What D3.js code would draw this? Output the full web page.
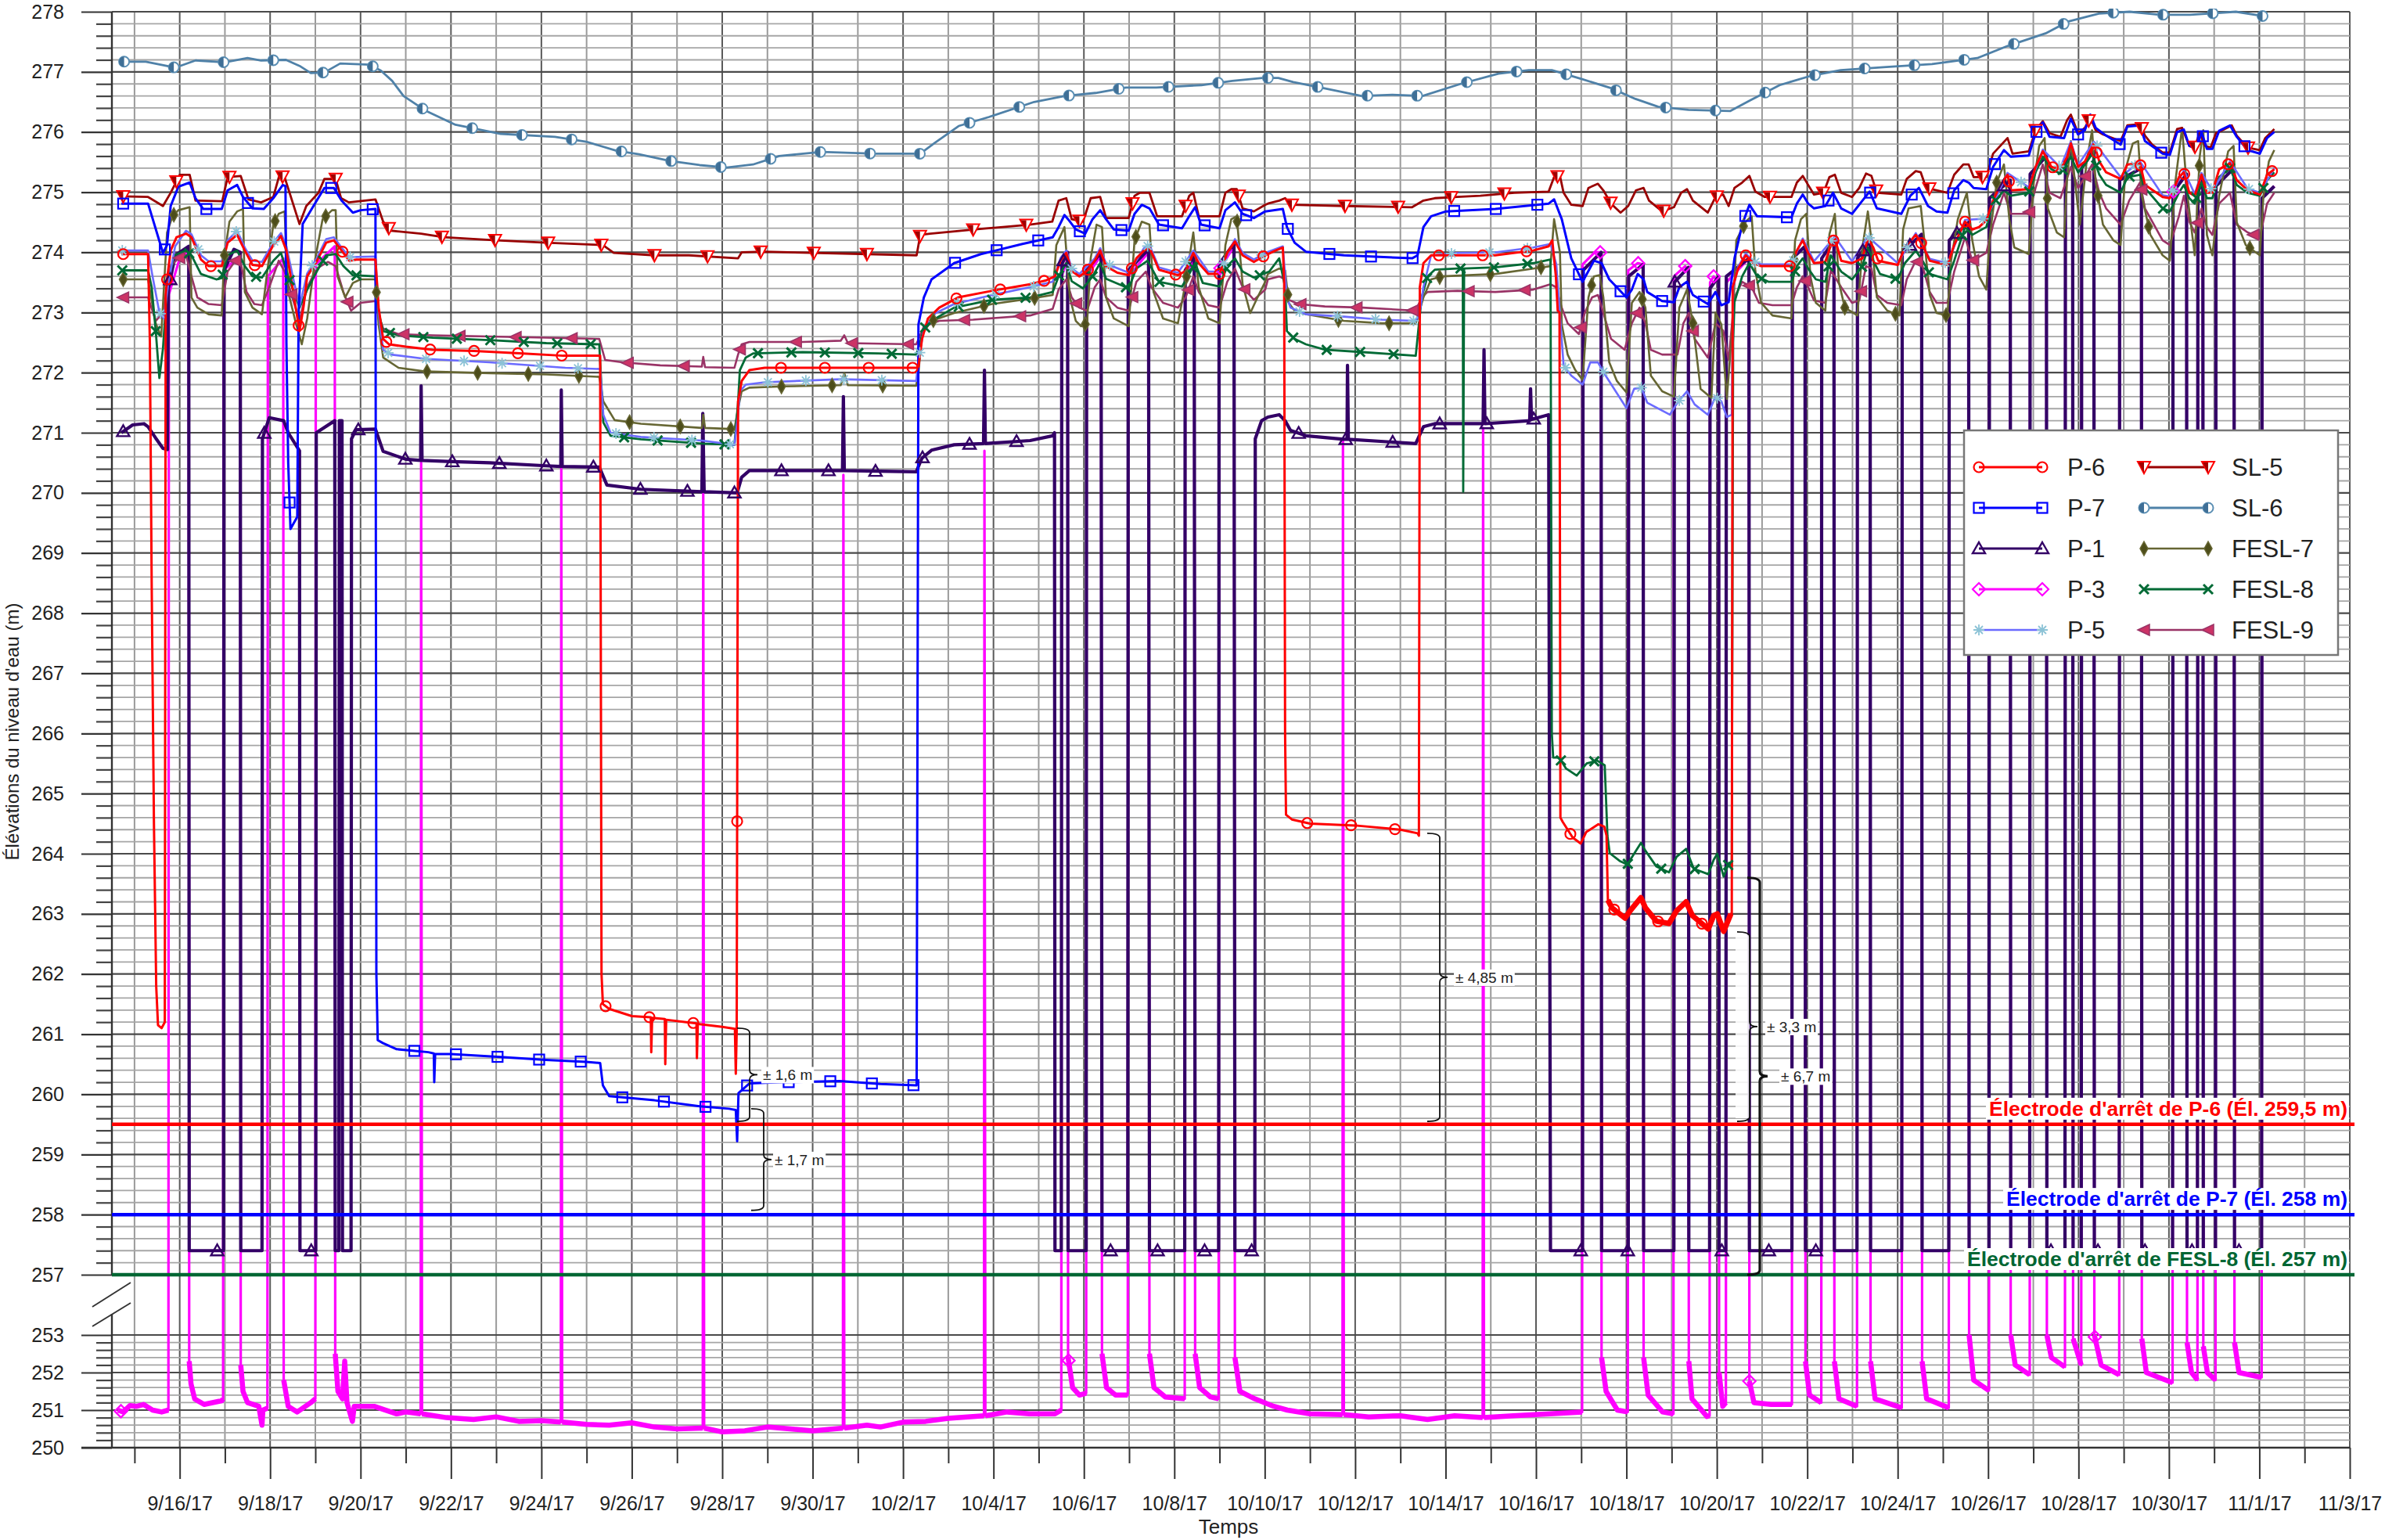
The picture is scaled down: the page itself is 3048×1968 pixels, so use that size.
<!DOCTYPE html>
<html>
<head>
<meta charset="utf-8">
<script src="https://cdn.jsdelivr.net/npm/d3@7"></script>
<style>
  body { margin: 0; background: #fff; }
  svg { display: block; }
  text { font-family: "Liberation Sans", Arial, sans-serif; }
</style>
</head>
<body>
<svg id="chart" width="3048" height="1968"></svg>
<script>
// Time is given in days counted from 2017-09-16 00:00; levels are elevations in metres.

const SL6 = [[-1.25,277.17],[-0.75,277.17],[-0.1,277.07],[0.35,277.19],[1.0,277.16],[1.5,277.23],[1.8,277.19],[2.35,277.2],[2.65,277.1],[2.9,276.98],[3.2,276.99],[3.55,277.14],[4.2,277.12],[4.45,277.02],[4.7,276.85],[4.95,276.6],[5.45,276.35],[6.1,276.12],[7.1,275.97],[8.3,275.92],[8.99,275.84],[9.66,275.69],[10.16,275.63],[10.84,275.52],[11.5,275.45],[12.1,275.41],[12.68,275.46],[13.26,275.6],[14.2,275.67],[15.38,275.64],[16.38,275.64],[16.7,275.82],[17.23,276.1],[17.9,276.25],[18.9,276.5],[19.58,276.6],[20.26,276.65],[20.93,276.74],[21.6,276.74],[22.6,276.78],[23.28,276.85],[23.95,276.9],[24.3,276.9],[24.63,276.83],[25.3,276.73],[26.14,276.6],[26.82,276.62],[27.49,276.6],[28.33,276.8],[29.17,276.97],[29.84,277.03],[30.35,277.03],[31.02,276.88],[31.66,276.73],[32.2,276.55],[32.7,276.42],[33.37,276.37],[34.3,276.35],[34.72,276.52],[35.39,276.78],[36.06,276.93],[36.74,277.03],[37.75,277.08],[38.76,277.13],[39.76,277.23],[40.43,277.43],[41.27,277.64],[41.78,277.84],[42.45,277.97],[43.13,278.0],[43.8,277.95],[44.47,277.95],[45.48,278.0],[46.15,277.92]];

const SL5 = [[-1.29,274.93],[-0.7,274.92],[-0.37,274.77],[-0.2,274.99],[0.0,275.29],[0.22,275.29],[0.35,274.86],[0.94,274.85],[1.06,275.25],[1.35,275.27],[1.52,274.88],[1.8,274.83],[2.07,274.92],[2.2,275.27],[2.32,275.25],[2.65,274.47],[2.8,274.77],[3.07,274.99],[3.2,275.22],[3.45,275.22],[3.57,274.9],[3.74,274.83],[4.33,274.88],[4.5,274.51],[4.67,274.36],[5.34,274.31],[5.84,274.25],[7.0,274.2],[8.1,274.16],[9.36,274.12],[9.6,273.99],[10.5,273.95],[11.26,273.95],[12.35,273.9],[12.43,274.0],[12.94,274.01],[16.3,273.95],[16.38,274.29],[16.6,274.31],[17.6,274.38],[18.8,274.46],[19.3,274.51],[19.44,274.86],[19.61,274.9],[19.73,274.55],[19.98,274.51],[20.15,274.9],[20.36,274.92],[20.49,274.57],[20.99,274.57],[21.12,274.94],[21.24,274.99],[21.45,274.99],[21.62,274.6],[22.17,274.6],[22.33,274.94],[22.42,274.99],[22.54,274.6],[23.0,274.6],[23.13,274.99],[23.26,275.05],[23.38,275.05],[23.51,274.73],[23.76,274.68],[24.01,274.79],[24.07,274.81],[24.32,274.86],[24.45,274.9],[24.57,274.79],[25.75,274.77],[27.26,274.75],[27.51,274.86],[27.76,274.9],[28.26,274.92],[28.77,274.94],[29.52,274.99],[30.28,275.01],[30.4,275.25],[30.53,275.27],[30.61,274.99],[30.78,274.79],[31.03,274.77],[31.16,275.07],[31.37,275.14],[31.49,275.03],[31.66,274.81],[31.87,274.66],[32.04,274.77],[32.21,275.03],[32.38,275.07],[32.5,274.86],[32.79,274.68],[33.05,274.75],[33.21,274.99],[33.34,275.05],[33.47,274.86],[33.8,274.66],[33.97,274.92],[34.14,274.96],[34.26,274.77],[34.39,275.07],[34.56,275.16],[34.72,275.27],[34.85,275.01],[35.06,274.92],[35.65,274.92],[35.77,275.16],[35.9,275.27],[36.02,275.12],[36.15,274.96],[36.36,274.99],[36.49,275.25],[36.61,275.29],[36.75,274.99],[36.99,274.92],[37.15,275.07],[37.3,275.31],[37.42,275.27],[37.54,274.99],[38.08,274.96],[38.2,275.22],[38.4,275.35],[38.51,275.33],[38.63,275.07],[39.1,274.99],[39.25,275.29],[39.45,275.46],[39.57,275.46],[39.68,275.25],[39.96,275.25],[40.11,275.64],[40.27,275.77],[40.43,275.9],[40.54,275.64],[40.9,275.68],[41.05,276.03],[41.21,276.18],[41.36,275.98],[41.6,275.92],[41.75,276.2],[41.83,276.29],[41.99,275.98],[42.14,276.07],[42.26,276.24],[42.38,276.03],[42.54,275.96],[42.93,275.85],[43.08,276.11],[43.36,276.13],[43.47,275.94],[43.63,275.79],[43.86,275.66],[44.02,275.66],[44.18,276.05],[44.29,276.07],[44.45,275.77],[44.57,275.74],[44.68,276.0],[44.8,275.77],[44.92,275.74],[45.04,275.98],[45.23,276.05],[45.39,276.11],[45.5,275.94],[45.74,275.74],[46.01,275.7],[46.13,275.9],[46.33,276.05]];

const P7 = [[-1.29,274.81],[-0.7,274.81],[-0.37,273.99],[-0.28,274.12],[-0.2,274.77],[-0.03,275.09],[0.22,275.16],[0.35,274.9],[0.52,274.72],[0.93,274.72],[1.06,275.03],[1.27,275.12],[1.4,274.92],[1.61,274.73],[1.86,274.72],[2.07,274.9],[2.28,275.12],[2.34,275.1],[2.36,272.5],[2.4,270.5],[2.45,269.4],[2.6,269.6],[2.63,273.0],[2.72,274.47],[2.99,274.81],[3.2,275.07],[3.41,275.07],[3.58,274.86],[3.83,274.66],[4.0,274.7],[4.33,274.72],[4.35,262.0],[4.38,260.9],[4.5,260.85],[4.8,260.75],[5.5,260.7],[5.62,260.68],[5.63,260.2],[5.65,260.67],[6.0,260.67],[7.1,260.62],[8.1,260.57],[8.99,260.54],[9.3,260.52],[9.36,260.15],[9.5,259.97],[10.5,259.9],[11.5,259.8],[12.15,259.76],[12.3,259.74],[12.33,259.22],[12.36,260.02],[12.6,260.18],[13.3,260.2],[14.6,260.22],[15.5,260.17],[16.3,260.15],[16.34,272.8],[16.46,273.25],[16.63,273.55],[16.8,273.64],[17.13,273.82],[17.72,273.97],[18.64,274.14],[19.31,274.25],[19.44,274.42],[19.57,274.62],[19.65,274.55],[19.82,274.38],[20.03,274.31],[20.19,274.55],[20.36,274.7],[20.49,274.55],[20.66,274.38],[20.99,274.36],[21.12,274.64],[21.28,274.79],[21.45,274.73],[21.66,274.46],[22.17,274.4],[22.33,274.6],[22.46,274.75],[22.59,274.46],[23.0,274.4],[23.13,274.7],[23.34,274.83],[23.51,274.64],[23.76,274.57],[24.01,274.68],[24.4,274.72],[24.49,274.42],[24.66,274.16],[24.91,274.01],[25.75,273.95],[27.26,273.9],[27.38,273.95],[27.51,274.42],[27.68,274.6],[28.01,274.68],[29.1,274.72],[30.28,274.81],[30.4,274.88],[30.57,274.55],[30.78,273.9],[31.03,273.51],[31.16,273.69],[31.28,273.86],[31.45,273.82],[31.62,273.55],[32.0,273.25],[32.12,273.38],[32.25,273.64],[32.38,273.55],[32.46,273.34],[32.79,273.19],[33.05,273.17],[33.17,273.42],[33.34,273.51],[33.47,273.29],[33.8,273.14],[33.97,273.34],[34.1,273.12],[34.26,273.17],[34.39,273.9],[34.56,274.46],[34.72,274.79],[34.89,274.6],[35.65,274.58],[35.77,274.81],[35.9,274.96],[36.02,274.81],[36.15,274.73],[36.4,274.77],[36.57,274.99],[36.75,274.73],[36.99,274.64],[37.22,274.86],[37.38,275.01],[37.54,274.73],[38.08,274.64],[38.28,274.94],[38.47,275.07],[38.67,274.77],[38.86,274.68],[39.1,274.66],[39.25,275.03],[39.45,275.2],[39.57,275.16],[39.68,275.07],[39.96,275.05],[40.11,275.42],[40.35,275.7],[40.5,275.59],[40.9,275.61],[41.05,275.98],[41.21,276.16],[41.36,275.92],[41.68,275.9],[41.83,276.22],[41.99,275.96],[42.14,276.03],[42.26,276.29],[42.38,276.07],[42.57,275.96],[42.93,275.79],[43.08,276.09],[43.36,276.11],[43.47,275.85],[43.86,275.64],[44.02,275.62],[44.18,276.0],[44.33,276.04],[44.45,275.77],[44.61,275.72],[44.72,276.0],[44.84,275.72],[44.96,275.72],[45.11,276.02],[45.35,276.11],[45.5,275.92],[45.74,275.7],[46.01,275.64],[46.17,275.9],[46.33,276.0]];

const P6 = [[-1.29,273.97],[-0.7,273.97],[-0.66,272.5],[-0.62,268.5],[-0.57,264.5],[-0.52,261.8],[-0.48,261.15],[-0.4,261.1],[-0.33,261.2],[-0.31,273.3],[-0.28,273.55],[-0.2,274.03],[-0.07,274.25],[0.14,274.31],[0.26,274.25],[0.47,273.88],[0.64,273.77],[0.93,273.77],[1.06,274.16],[1.27,274.29],[1.44,274.03],[1.61,273.79],[1.82,273.77],[2.07,274.12],[2.24,274.27],[2.36,274.03],[2.53,273.25],[2.65,272.69],[2.74,273.1],[2.82,273.6],[3.03,273.85],[3.24,274.16],[3.41,274.2],[3.58,274.03],[3.75,273.86],[3.91,273.88],[4.33,273.88],[4.4,273.08],[4.5,272.56],[4.63,272.47],[5.0,272.43],[5.59,272.38],[6.51,272.36],[7.52,272.32],[8.49,272.28],[9.3,272.28],[9.33,262.0],[9.36,261.5],[9.5,261.42],[10.0,261.3],[10.42,261.28],[10.43,260.7],[10.45,261.27],[10.73,261.25],[10.74,260.5],[10.76,261.24],[11.2,261.2],[11.43,261.18],[11.44,260.6],[11.46,261.17],[12.0,261.12],[12.28,261.09],[12.3,260.34],[12.32,261.05],[12.35,271.52],[12.43,271.86],[12.6,272.04],[12.94,272.08],[16.29,272.08],[16.34,272.1],[16.42,272.56],[16.55,272.9],[16.8,273.08],[17.22,273.25],[17.97,273.36],[18.81,273.47],[19.15,273.53],[19.36,273.6],[19.48,273.86],[19.61,273.99],[19.73,273.69],[19.9,273.6],[20.07,273.69],[20.24,273.86],[20.36,274.03],[20.49,273.77],[20.74,273.66],[20.99,273.62],[21.16,273.9],[21.33,274.03],[21.45,274.08],[21.66,273.71],[22.08,273.62],[22.25,273.69],[22.42,273.99],[22.54,273.82],[22.75,273.64],[23.0,273.64],[23.17,273.99],[23.34,274.18],[23.51,273.95],[23.76,273.84],[24.01,273.95],[24.24,274.03],[24.4,274.08],[24.43,273.5],[24.45,266.0],[24.47,264.65],[24.6,264.57],[25.0,264.5],[26.0,264.47],[27.0,264.4],[27.38,264.34],[27.41,264.3],[27.43,273.42],[27.51,273.82],[27.68,273.95],[29.1,273.95],[29.94,274.03],[30.28,274.1],[30.36,274.2],[30.44,273.6],[30.48,273.03],[30.52,273.0],[30.54,264.6],[30.59,264.53],[30.81,264.27],[30.99,264.17],[31.11,264.36],[31.38,264.49],[31.51,264.45],[31.56,264.3],[31.59,263.23],[31.68,263.1],[31.97,262.93],[32.08,263.05],[32.32,263.27],[32.42,263.1],[32.66,262.88],[32.94,262.84],[33.11,263.05],[33.32,263.2],[33.46,262.97],[33.81,262.75],[33.93,262.97],[34.01,263.0],[34.15,262.71],[34.31,263.0],[34.33,263.0],[34.35,273.42],[34.47,273.73],[34.64,273.95],[34.81,273.82],[34.98,273.77],[35.65,273.77],[35.77,274.03],[35.9,274.2],[36.02,273.99],[36.15,273.82],[36.4,273.84],[36.53,274.14],[36.61,274.23],[36.75,273.86],[36.99,273.82],[37.22,273.9],[37.34,274.23],[37.46,274.08],[37.57,273.86],[38.0,273.79],[38.16,274.08],[38.4,274.29],[38.55,274.12],[38.71,273.86],[39.1,273.79],[39.25,274.12],[39.49,274.51],[39.65,274.38],[39.8,274.42],[39.96,274.53],[40.11,274.86],[40.27,275.12],[40.43,275.29],[40.5,275.03],[40.9,275.05],[41.05,275.42],[41.21,275.68],[41.4,275.42],[41.6,275.38],[41.75,275.59],[41.83,275.81],[41.99,275.42],[42.14,275.51],[42.34,275.81],[42.46,275.51],[42.61,275.33],[42.93,275.22],[43.08,275.46],[43.36,275.48],[43.47,275.12],[43.86,274.92],[44.02,274.9],[44.22,275.25],[44.33,275.33],[44.45,274.99],[44.57,274.94],[44.72,275.29],[44.84,274.99],[44.96,274.99],[45.11,275.38],[45.35,275.48],[45.5,275.2],[45.74,275.03],[46.01,274.96],[46.17,275.29],[46.33,275.38]];

const P5 = [[-1.29,274.03],[-0.7,274.03],[-0.6,273.6],[-0.45,273.0],[-0.35,272.9],[-0.25,273.5],[-0.1,274.1],[0.14,274.36],[0.26,274.3],[0.47,273.95],[0.64,273.85],[0.93,273.85],[1.06,274.2],[1.27,274.36],[1.44,274.08],[1.61,273.86],[1.82,273.84],[2.07,274.16],[2.24,274.32],[2.36,274.1],[2.53,273.5],[2.65,273.1],[2.82,273.65],[3.03,273.9],[3.24,274.22],[3.41,274.25],[3.58,274.08],[3.75,273.92],[4.33,273.93],[4.4,273.0],[4.5,272.38],[4.67,272.3],[5.42,272.23],[6.85,272.17],[8.53,272.08],[9.3,272.06],[9.37,271.3],[9.53,271.0],[10.2,270.93],[11.55,270.87],[12.27,270.8],[12.35,271.3],[12.39,271.69],[12.52,271.8],[12.94,271.84],[14.62,271.89],[16.29,271.86],[16.34,272.2],[16.46,272.73],[16.72,272.99],[17.13,273.14],[17.97,273.29],[18.81,273.42],[19.31,273.51],[19.48,273.9],[19.61,274.03],[19.73,273.73],[19.9,273.64],[20.24,273.9],[20.36,274.07],[20.49,273.81],[20.99,273.66],[21.33,274.07],[21.45,274.12],[21.66,273.75],[22.08,273.66],[22.42,274.03],[22.75,273.68],[23.0,273.68],[23.34,274.22],[23.51,273.99],[23.76,273.88],[24.01,273.99],[24.4,274.1],[24.49,273.25],[24.57,273.08],[24.91,272.97],[25.75,272.93],[26.59,272.88],[27.34,272.86],[27.43,273.0],[27.51,273.42],[27.68,273.95],[28.26,273.99],[29.1,274.0],[29.94,274.08],[30.32,274.14],[30.45,273.8],[30.61,272.12],[30.78,271.95],[31.03,271.8],[31.2,272.17],[31.37,272.17],[31.54,271.95],[32.0,271.41],[32.17,271.73],[32.33,271.75],[32.46,271.5],[32.96,271.3],[33.13,271.5],[33.34,271.69],[33.51,271.47],[33.8,271.3],[33.97,271.6],[34.1,271.52],[34.22,271.26],[34.33,271.3],[34.36,273.4],[34.47,273.76],[34.64,273.98],[34.81,273.85],[34.98,273.8],[35.65,273.8],[35.9,274.23],[36.15,273.85],[36.61,274.26],[36.99,273.85],[37.34,274.26],[38.0,273.82],[38.4,274.32],[38.71,273.89],[39.1,273.82],[39.49,274.54],[39.96,274.56],[40.43,275.32],[40.9,275.08],[41.21,275.71],[41.6,275.41],[41.83,275.84],[41.99,275.45],[42.34,275.84],[42.93,275.25],[43.36,275.51],[43.86,274.95],[44.02,274.93],[44.33,275.36],[44.57,274.97],[44.72,275.32],[44.96,275.02],[45.35,275.51],[45.74,275.06],[46.01,274.99],[46.33,275.4]];

const FESL8 = [[-1.29,273.7],[-0.7,273.7],[-0.62,273.42],[-0.53,272.69],[-0.45,271.91],[-0.37,272.4],[-0.28,273.42],[-0.12,273.95],[0.14,274.03],[0.26,273.95],[0.47,273.64],[0.81,273.55],[0.93,273.57],[1.06,273.95],[1.27,274.03],[1.44,273.77],[1.61,273.6],[1.82,273.58],[2.07,273.86],[2.24,273.99],[2.4,273.6],[2.65,273.08],[2.82,273.38],[3.03,273.68],[3.24,273.95],[3.45,273.97],[3.62,273.77],[3.83,273.62],[4.33,273.6],[4.4,273.0],[4.5,272.69],[4.84,272.62],[5.6,272.58],[6.85,272.54],[8.11,272.49],[9.28,272.47],[9.37,271.17],[9.53,270.95],[10.2,270.89],[11.55,270.82],[12.27,270.8],[12.35,271.5],[12.39,272.04],[12.52,272.25],[12.69,272.32],[13.78,272.34],[15.45,272.32],[16.29,272.3],[16.34,272.4],[16.46,272.73],[16.72,272.9],[17.13,273.08],[17.97,273.21],[18.81,273.25],[19.31,273.34],[19.44,273.6],[19.61,273.82],[19.73,273.52],[19.98,273.4],[20.19,273.6],[20.36,273.82],[20.49,273.56],[20.99,273.4],[21.16,273.73],[21.41,273.86],[21.66,273.51],[22.17,273.43],[22.33,273.64],[22.46,273.82],[22.63,273.49],[23.0,273.43],[23.17,273.77],[23.34,273.9],[23.51,273.68],[23.76,273.58],[24.1,273.68],[24.32,273.9],[24.45,273.42],[24.49,272.69],[24.66,272.56],[24.91,272.47],[25.33,272.38],[26.17,272.34],[27.34,272.28],[27.47,273.25],[27.6,273.6],[27.76,273.71],[28.26,273.73],[28.38,273.73],[28.39,270.02],[28.41,273.73],[29.1,273.75],[29.94,273.82],[30.32,273.88],[30.35,266.0],[30.38,265.6],[30.51,265.6],[30.66,265.42],[30.9,265.3],[31.12,265.5],[31.35,265.55],[31.52,265.47],[31.58,264.3],[31.63,264.01],[31.85,263.88],[32.02,263.82],[32.32,264.18],[32.42,264.05],[32.66,263.79],[32.94,263.69],[33.11,263.95],[33.32,264.08],[33.49,263.75],[33.81,263.66],[33.93,263.9],[34.01,264.0],[34.15,263.62],[34.27,263.85],[34.33,263.8],[34.36,272.5],[34.39,273.17],[34.56,273.6],[34.72,273.82],[34.89,273.6],[35.14,273.51],[35.65,273.51],[35.77,273.77],[35.9,273.9],[36.02,273.73],[36.19,273.55],[36.4,273.51],[36.52,273.95],[36.75,273.68],[36.99,273.55],[37.22,273.77],[37.34,274.08],[37.46,273.86],[37.61,273.64],[38.0,273.55],[38.16,273.82],[38.4,274.03],[38.55,273.86],[38.71,273.64],[39.1,273.55],[39.25,273.86],[39.49,274.42],[39.65,274.29],[39.96,274.42],[40.11,274.81],[40.35,275.03],[40.5,274.94],[40.9,274.99],[41.05,275.33],[41.21,275.59],[41.4,275.38],[41.6,275.31],[41.83,275.59],[41.99,275.33],[42.14,275.46],[42.3,275.64],[42.46,275.29],[42.61,275.12],[42.93,274.99],[43.08,275.25],[43.36,275.29],[43.47,275.07],[43.86,274.73],[44.02,274.68],[44.22,274.99],[44.33,275.12],[44.45,274.9],[44.57,274.81],[44.72,275.16],[44.84,274.9],[44.96,274.9],[45.11,275.25],[45.35,275.4],[45.5,275.12],[45.74,274.99],[46.01,274.94],[46.17,275.2],[46.33,275.33]];

const FESL7 = [[-1.29,273.55],[-0.7,273.55],[-0.62,273.2],[-0.53,272.82],[-0.41,272.6],[-0.28,274.33],[-0.16,274.6],[-0.03,274.7],[0.22,274.75],[0.26,273.25],[0.39,273.08],[0.64,272.97],[0.93,272.95],[0.98,273.9],[1.1,274.51],[1.27,274.68],[1.4,274.72],[1.44,273.34],[1.61,273.08],[1.82,272.97],[1.94,273.7],[2.07,274.46],[2.19,274.64],[2.32,274.68],[2.4,273.34],[2.57,272.82],[2.7,272.47],[2.82,272.9],[2.99,273.86],[3.16,274.55],[3.37,274.7],[3.45,274.7],[3.49,273.6],[3.66,273.25],[3.83,273.49],[4.0,273.55],[4.33,273.55],[4.4,272.8],[4.5,272.25],[4.84,272.08],[5.42,272.02],[6.85,271.99],[8.11,271.97],[9.28,271.93],[9.37,271.52],[9.62,271.21],[10.2,271.15],[11.55,271.08],[11.58,271.3],[11.62,271.08],[12.27,271.06],[12.35,271.4],[12.43,271.69],[12.6,271.75],[13.36,271.77],[14.62,271.79],[14.7,271.99],[14.78,271.79],[16.29,271.78],[16.34,272.0],[16.42,272.64],[16.63,272.86],[17.13,272.99],[17.97,273.14],[18.81,273.23],[19.31,273.29],[19.39,274.12],[19.57,274.42],[19.69,273.25],[19.82,272.86],[19.94,272.77],[20.07,272.82],[20.15,273.9],[20.28,274.46],[20.4,274.42],[20.49,273.25],[20.66,272.9],[20.99,272.77],[21.12,274.2],[21.28,274.51],[21.45,274.46],[21.54,273.34],[21.75,272.9],[22.08,272.82],[22.25,273.5],[22.42,274.33],[22.54,273.42],[22.75,272.9],[23.0,272.82],[23.13,274.12],[23.26,274.55],[23.38,274.6],[23.51,273.47],[23.68,272.99],[23.84,273.25],[24.01,273.51],[24.07,273.64],[24.32,273.73],[24.45,273.7],[24.53,273.16],[24.66,273.03],[24.91,272.97],[25.75,272.86],[26.59,272.82],[27.34,272.82],[27.51,273.25],[27.68,273.55],[27.93,273.6],[29.1,273.64],[29.94,273.73],[30.32,273.77],[30.4,274.55],[30.53,274.0],[30.57,272.8],[30.7,272.3],[30.87,272.04],[31.03,271.88],[31.16,273.25],[31.28,273.6],[31.41,273.62],[31.49,273.25],[31.62,272.17],[31.79,271.86],[32.0,271.67],[32.12,273.16],[32.29,273.34],[32.42,273.08],[32.54,271.95],[32.79,271.69],[33.05,271.6],[33.17,273.08],[33.34,273.38],[33.47,272.82],[33.64,271.73],[33.88,271.58],[33.97,273.0],[34.1,272.8],[34.22,271.56],[34.35,272.82],[34.43,274.2],[34.64,274.51],[34.77,274.6],[34.85,273.7],[34.98,273.16],[35.23,272.95],[35.65,272.9],[35.73,274.2],[35.86,274.55],[35.98,274.64],[36.07,273.6],[36.19,273.16],[36.4,273.03],[36.49,274.3],[36.61,274.64],[36.7,273.5],[36.83,273.08],[37.11,272.95],[37.22,274.08],[37.34,274.68],[37.42,274.2],[37.54,273.25],[37.77,273.03],[38.04,272.95],[38.12,274.38],[38.24,274.73],[38.51,274.77],[38.59,274.2],[38.71,273.29],[38.86,272.99],[39.1,272.95],[39.18,273.86],[39.33,274.55],[39.53,274.99],[39.65,274.2],[39.8,273.6],[39.96,273.38],[40.04,274.29],[40.19,275.16],[40.35,275.46],[40.47,274.55],[40.58,274.08],[40.9,273.97],[41.01,275.16],[41.13,275.77],[41.25,275.9],[41.32,274.73],[41.52,274.33],[41.68,274.25],[41.75,275.25],[41.83,275.85],[41.91,275.25],[42.03,274.46],[42.18,275.51],[42.3,276.03],[42.38,275.16],[42.54,274.46],[42.77,274.2],[42.93,274.12],[43.04,275.38],[43.2,275.81],[43.32,275.85],[43.4,274.94],[43.59,274.29],[43.86,273.95],[44.02,273.86],[44.14,275.16],[44.29,276.07],[44.41,274.94],[44.57,273.95],[44.68,275.59],[44.76,276.03],[44.84,274.29],[44.96,273.95],[45.11,274.94],[45.31,275.68],[45.43,275.77],[45.5,274.5],[45.7,274.12],[46.01,273.95],[46.09,274.94],[46.21,275.51],[46.33,275.7]];

const FESL9 = [[-1.29,273.25],[-0.7,273.25],[-0.53,272.86],[-0.37,273.0],[-0.2,273.77],[-0.03,273.9],[0.14,273.95],[0.26,273.6],[0.39,273.25],[0.64,273.14],[0.93,273.12],[1.06,273.68],[1.23,273.86],[1.35,273.82],[1.48,273.34],[1.65,273.14],[1.82,273.12],[1.98,273.42],[2.19,273.86],[2.32,273.68],[2.49,273.25],[2.65,272.86],[2.82,273.42],[3.03,273.73],[3.28,273.84],[3.45,273.77],[3.62,273.34],[3.79,273.03],[4.0,273.16],[4.33,273.19],[4.4,272.95],[4.5,272.73],[4.84,272.64],[5.6,272.62],[6.85,272.6],[8.11,272.58],[9.28,272.56],[9.41,272.21],[9.79,272.17],[10.63,272.12],[11.55,272.1],[11.58,272.26],[11.62,272.09],[12.27,272.08],[12.35,272.3],[12.43,272.47],[12.6,272.51],[13.78,272.51],[14.62,272.53],[14.7,272.62],[14.78,272.49],[16.29,272.47],[16.34,272.55],[16.46,272.77],[16.8,272.86],[17.55,272.88],[18.81,272.95],[19.31,273.06],[19.44,273.38],[19.61,273.55],[19.73,273.25],[19.9,273.08],[20.07,273.03],[20.24,273.42],[20.36,273.55],[20.49,273.25],[20.74,273.08],[20.99,273.03],[21.16,273.51],[21.37,273.68],[21.49,273.42],[21.75,273.16],[22.08,273.08],[22.25,273.25],[22.42,273.6],[22.54,273.34],[22.75,273.12],[23.0,273.08],[23.17,273.51],[23.34,273.73],[23.51,273.42],[23.76,273.21],[24.01,273.38],[24.07,273.55],[24.32,273.6],[24.45,273.55],[24.53,273.21],[24.74,273.14],[25.33,273.1],[26.17,273.08],[27.34,273.03],[27.47,273.25],[27.6,273.34],[28.26,273.36],[29.1,273.34],[29.94,273.38],[30.32,273.47],[30.44,273.42],[30.57,273.08],[30.7,272.82],[30.95,272.64],[31.08,273.0],[31.24,273.25],[31.37,273.29],[31.49,272.99],[31.66,272.56],[31.96,272.38],[32.12,272.82],[32.29,273.08],[32.42,272.82],[32.54,272.38],[32.79,272.3],[33.13,272.3],[33.26,272.82],[33.38,272.99],[33.51,272.56],[33.8,272.25],[33.97,272.82],[34.14,272.7],[34.26,272.21],[34.39,273.25],[34.56,273.51],[34.77,273.42],[34.93,273.16],[35.23,273.12],[35.65,273.12],[35.77,273.42],[35.9,273.6],[36.02,273.42],[36.15,273.2],[36.4,273.16],[36.52,273.7],[36.75,273.42],[36.99,273.16],[37.15,273.2],[37.3,273.77],[37.42,273.73],[37.54,273.29],[37.77,273.16],[38.08,273.12],[38.2,273.55],[38.4,273.86],[38.55,273.77],[38.71,273.34],[38.86,273.16],[39.1,273.16],[39.25,273.68],[39.49,274.25],[39.65,273.86],[39.96,273.99],[40.11,274.46],[40.35,274.99],[40.5,274.64],[40.9,274.64],[41.05,275.07],[41.21,275.46],[41.36,274.99],[41.6,274.9],[41.83,275.42],[41.99,275.07],[42.14,275.25],[42.3,275.46],[42.46,274.99],[42.61,274.73],[42.93,274.46],[43.12,274.86],[43.36,275.16],[43.47,274.73],[43.86,274.2],[44.02,274.12],[44.22,274.6],[44.33,274.94],[44.45,274.51],[44.57,274.33],[44.72,274.73],[44.84,274.42],[44.96,274.29],[45.11,274.81],[45.35,274.99],[45.5,274.46],[45.74,274.33],[46.01,274.25],[46.17,274.81],[46.33,274.99]];

const P1 = [[-1.29,271.0],[-1.04,271.13],[-0.79,271.15],[-0.7,271.1],[-0.53,270.91],[-0.37,270.74],[-0.27,270.72],[-0.25,273.4],[-0.1,273.95],[0.2,274.1],[0.21,257.4],[0.97,257.4],[0.98,273.7],[1.2,274.05],[1.34,274.0],[1.35,257.4],[1.82,257.4],[1.83,270.9],[1.98,271.25],[2.3,271.2],[2.4,271.0],[2.65,270.7],[2.66,257.4],[3.01,257.4],[3.02,271.0],[3.43,271.2],[3.44,257.4],[3.52,257.4],[3.53,271.2],[3.59,271.2],[3.6,257.4],[3.79,257.4],[3.8,270.9],[3.9,271.05],[4.33,271.06],[4.5,270.69],[5.0,270.56],[5.33,270.54],[5.34,271.78],[5.36,270.54],[6.02,270.52],[6.85,270.5],[8.11,270.45],[8.43,270.44],[8.44,271.71],[8.46,270.44],[9.28,270.43],[9.45,270.13],[10.2,270.06],[11.55,270.02],[11.57,271.32],[11.6,270.02],[12.33,270.0],[12.43,270.26],[12.6,270.37],[14.66,270.37],[14.68,271.6],[14.7,270.37],[16.29,270.35],[16.42,270.58],[16.63,270.71],[17.13,270.8],[17.78,270.82],[17.8,272.04],[17.82,270.82],[18.81,270.87],[19.31,270.95],[19.35,271.0],[19.36,257.4],[19.5,257.4],[19.51,273.8],[19.64,274.0],[19.65,257.4],[20.05,257.4],[20.06,273.7],[20.38,274.0],[20.4,257.4],[20.97,257.4],[20.98,273.7],[21.43,274.05],[21.45,257.4],[22.23,257.4],[22.24,273.7],[22.44,273.95],[22.46,257.4],[22.98,257.4],[22.99,273.8],[23.32,274.15],[23.34,257.4],[23.78,257.4],[23.79,270.9],[23.93,271.2],[24.07,271.26],[24.32,271.3],[24.45,271.2],[24.57,271.04],[24.91,270.95],[25.75,270.89],[25.82,270.89],[25.83,272.12],[25.85,270.89],[27.34,270.82],[27.51,271.1],[27.76,271.15],[28.83,271.15],[28.85,272.38],[28.87,271.15],[29.86,271.2],[29.88,271.73],[29.9,271.22],[30.28,271.3],[30.32,257.4],[31.03,257.4],[31.04,273.7],[31.44,274.0],[31.45,257.4],[32.04,257.4],[32.05,273.6],[32.37,273.8],[32.38,257.4],[33.05,257.4],[33.06,273.5],[33.37,273.75],[33.38,257.4],[33.84,257.4],[33.85,273.4],[34.04,273.6],[34.05,257.4],[34.2,257.4],[34.21,273.6],[34.71,273.9],[34.72,257.4],[35.66,257.4],[35.67,273.9],[35.95,274.1],[35.96,257.4],[36.31,257.4],[36.32,273.9],[36.59,274.2],[36.6,257.4],[37.1,257.4],[37.11,273.9],[37.39,274.2],[37.4,257.4],[38.09,257.4],[38.1,274.0],[38.53,274.3],[38.54,257.4],[39.13,257.4],[39.14,274.2],[39.57,274.5],[39.58,257.4],[40.02,257.4],[40.03,274.9],[40.49,275.2],[40.5,257.4],[40.92,257.4],[40.93,275.3],[41.29,275.6],[41.3,257.4],[41.7,257.4],[41.71,275.5],[41.87,275.7],[41.88,257.4],[42.06,257.4],[42.07,275.4],[42.34,275.7],[42.35,257.4],[42.9,257.4],[42.91,275.2],[43.39,275.4],[43.4,257.4],[44.08,257.4],[44.09,275.0],[44.39,275.3],[44.4,257.4],[44.63,257.4],[44.64,275.0],[44.75,275.2],[44.76,257.4],[45.03,257.4],[45.04,275.1],[45.44,275.4],[45.45,257.4],[46.05,257.4],[46.06,274.9],[46.33,275.1]];

const P3 = [[-1.37,251.0],[-1.25,250.95],[-1.1,251.12],[-0.95,251.1],[-0.8,251.15],[-0.6,251.0],[-0.4,250.95],[-0.25,251.0],[-0.24,273.3],[0.0,273.9],[0.2,274.0],[0.21,252.3],[0.25,251.7],[0.33,251.3],[0.54,251.15],[0.93,251.25],[0.96,251.3],[0.97,273.7],[1.34,273.95],[1.35,252.2],[1.4,251.5],[1.5,251.2],[1.75,251.1],[1.82,250.6],[1.84,251.0],[1.94,251.05],[1.95,273.6],[2.29,273.9],[2.3,251.8],[2.4,251.1],[2.6,250.95],[2.9,251.2],[3.0,251.3],[3.01,273.8],[3.43,274.1],[3.44,252.5],[3.5,251.5],[3.6,251.3],[3.65,252.3],[3.7,251.2],[3.82,250.7],[3.86,251.1],[4.3,251.1],[4.8,250.9],[5.0,250.95],[5.33,250.9],[5.34,270.5],[5.36,250.9],[5.9,250.8],[6.5,250.75],[7.0,250.82],[7.5,250.7],[8.0,250.72],[8.43,250.68],[8.44,270.4],[8.46,250.68],[9.0,250.62],[9.5,250.6],[10.0,250.66],[10.5,250.55],[11.0,250.5],[11.57,250.52],[11.58,270.0],[11.6,250.52],[12.0,250.42],[12.5,250.45],[13.0,250.55],[13.5,250.5],[14.0,250.45],[14.67,250.52],[14.68,270.3],[14.7,250.52],[15.2,250.6],[15.5,250.55],[16.0,250.68],[16.5,250.7],[17.0,250.78],[17.79,250.85],[17.8,270.7],[17.82,250.85],[18.3,250.95],[18.8,250.9],[19.36,250.9],[19.5,251.0],[19.51,273.6],[19.64,273.9],[19.65,252.4],[19.75,251.6],[19.9,251.4],[20.05,251.45],[20.06,273.6],[20.38,273.95],[20.4,252.5],[20.5,251.6],[20.7,251.4],[20.97,251.4],[20.98,273.6],[21.43,274.0],[21.45,252.5],[21.55,251.6],[21.8,251.35],[22.23,251.3],[22.24,273.6],[22.44,273.9],[22.46,252.5],[22.56,251.6],[22.8,251.35],[22.98,251.3],[22.99,273.7],[23.32,274.1],[23.34,252.4],[23.45,251.5],[23.78,251.3],[24.2,251.1],[24.5,251.0],[25.0,250.9],[25.72,250.88],[25.73,270.87],[25.75,250.88],[26.3,250.82],[27.0,250.85],[27.6,250.75],[28.2,250.85],[28.82,250.8],[28.83,271.08],[28.85,250.8],[29.5,250.85],[30.3,250.9],[31.02,250.95],[31.03,273.8],[31.3,274.0],[31.44,274.0],[31.45,252.4],[31.55,251.5],[31.8,251.0],[32.03,250.95],[32.04,273.7],[32.25,273.82],[32.37,273.8],[32.38,252.4],[32.48,251.4],[32.8,250.95],[33.04,250.9],[33.05,273.6],[33.3,273.77],[33.37,273.7],[33.38,252.3],[33.45,251.3],[33.78,250.83],[33.84,250.85],[33.85,273.5],[33.93,273.6],[34.04,273.5],[34.05,252.0],[34.13,251.1],[34.2,251.2],[34.21,273.5],[34.71,273.9],[34.72,251.77],[34.82,251.2],[35.2,251.15],[35.66,251.15],[35.67,273.9],[35.95,274.1],[35.96,252.3],[36.05,251.4],[36.31,251.2],[36.32,273.9],[36.59,274.2],[36.6,252.3],[36.7,251.3],[37.1,251.1],[37.11,273.9],[37.39,274.2],[37.4,252.3],[37.5,251.3],[38.09,251.06],[38.1,274.0],[38.53,274.3],[38.54,252.3],[38.64,251.3],[39.13,251.06],[39.14,274.2],[39.57,274.5],[39.58,253.0],[39.68,251.8],[40.02,251.52],[40.03,274.9],[40.49,275.2],[40.5,253.0],[40.6,252.2],[40.92,251.94],[40.93,275.3],[41.29,275.6],[41.3,253.0],[41.4,252.4],[41.7,252.15],[41.71,275.5],[41.87,275.7],[41.88,252.9],[42.06,252.2],[42.07,275.4],[42.34,275.7],[42.35,253.0],[42.5,252.2],[42.9,251.94],[42.91,275.2],[43.39,275.4],[43.4,252.9],[43.5,252.0],[44.08,251.73],[44.09,275.0],[44.39,275.3],[44.4,252.8],[44.5,252.0],[44.63,251.8],[44.64,275.0],[44.75,275.2],[44.76,252.7],[44.85,252.0],[45.03,251.8],[45.04,275.1],[45.44,275.4],[45.45,252.8],[45.55,252.0],[46.05,251.87],[46.06,274.9],[46.33,275.1]];

// Days on which the P-3 logger record carries a symbol
const P3_MARK_DAYS = [-1.3, 19.66, 23.02, 31.42, 32.26, 33.3, 33.93, 34.72, 42.36, 44.1];

// Shut-off electrode elevations
const electrodes = [
  { level: 259.5, color: "#ff0000", label: "Électrode d'arrêt de P-6 (Él. 259,5 m)", width: 458 },
  { level: 258.0, color: "#0000ff", label: "Électrode d'arrêt de P-7 (Él. 258 m)", width: 436 },
  { level: 257.0, color: "#006633", label: "Électrode d'arrêt de FESL-8 (Él. 257 m)", width: 486 }
];

// Drawdown brackets between a measured level and an electrode
const brackets = [
  { top: 261.1, bottom: 259.55, text: "± 1,6 m", x: 958, tx: 975, weight: 1.8 },
  { top: 259.76, bottom: 258.07, text: "± 1,7 m", x: 976, tx: 990, weight: 1.8 },
  { top: 264.34, bottom: 259.55, text: "± 4,85 m", x: 1840, tx: 1860, weight: 1.8 },
  { top: 262.7, bottom: 259.55, text: "± 3,3 m", x: 2236, tx: 2258, weight: 1.8, veil: 18 },
  { top: 263.6, bottom: 257.0, text: "± 6,7 m", x: 2249, tx: 2276, weight: 3.2 }
];

const yTickLabels = [250, 251, 252, 253, 257, 258, 259, 260, 261, 262, 263, 264, 265, 266, 267, 268, 269, 270, 271, 272, 273, 274, 275, 276, 277, 278];

const series = [
  { name: "P-3",    data: P3,    color: "#ff00ff", width: 3.2, marker: "diamond",    marks: P3_MARK_DAYS,
    band: { test: d => d[1] < 253.5, width: 6.5 } },
  { name: "P-1",    data: P1,    color: "#330066", width: 4.2, marker: "triUp",      every: 1.04,  start: -1.25 },
  { name: "FESL-9", data: FESL9, color: "#993366", width: 2.6, marker: "triLeft",    every: 1.24,  start: -1.25 },
  { name: "FESL-7", data: FESL7, color: "#666633", width: 2.6, marker: "diamondFill",every: 1.12,  start: -1.25 },
  { name: "FESL-8", data: FESL8, color: "#006a35", width: 2.8, marker: "x",          every: 0.74,  start: -1.27 },
  { name: "P-5",    data: P5,    color: "#6b6bff", width: 2.6, marker: "star",       every: 0.84,  start: -1.27 },
  { name: "SL-6",   data: SL6,   color: "#4f81a8", width: 2.8, marker: "halfCircle", every: 1.1,   start: -1.23 },
  { name: "SL-5",   data: SL5,   color: "#990000", width: 2.8, marker: "triDown",    every: 1.175, start: -1.25 },
  { name: "P-7",    data: P7,    color: "#0000ff", width: 3.0, marker: "square",     every: 0.92,  start: -1.25 },
  { name: "P-6",    data: P6,    color: "#ff0000", width: 3.0, marker: "circle",     every: 0.97,  start: -1.25,
    band: { test: d => d[0] >= 31.58 && d[0] <= 34.32, width: 7 } }
];

const legendOrder = ["P-6", "SL-5", "P-7", "SL-6", "P-1", "FESL-7", "P-3", "FESL-8", "P-5", "FESL-9"];

// ---------------------------------------------------------------------------
const svg = d3.select("#chart");
const plot = { left: 143, right: 3003, top: 15, bottom: 1850 };
const DAY0 = Date.UTC(2017, 8, 16);
const toDate = t => new Date(DAY0 + t * 864e5);
const dayIndex = d => Math.round((d - DAY0) / 864e5);

const x = d3.scaleUtc().domain([toDate(-1.5), toDate(48)]).range([plot.left, plot.right]);
const y = d3.scaleLinear().domain([250, 253, 257, 278]).range([1850, 1706, 1629, 15]);

svg.append("rect").attr("width", 3048).attr("height", 1968).attr("fill", "#fff");

// Grid: every 0.2 m in both scale segments, every day vertically
const gridLevels = [...d3.range(1250, 1266), ...d3.range(1285, 1391)].map(v => v / 5);
const days = d3.utcDay.range(toDate(-1), toDate(48.01));
const grid = svg.append("g");
grid.selectAll("line.v").data(days).join("line")
  .attr("x1", d => x(d)).attr("x2", d => x(d))
  .attr("y1", plot.top).attr("y2", plot.bottom)
  .attr("stroke", d => dayIndex(d) % 2 === 0 ? "#5a5a5a" : "#9a9a9a")
  .attr("stroke-width", 2);
grid.selectAll("line.h").data(gridLevels).join("line")
  .attr("x1", plot.left).attr("x2", plot.right)
  .attr("y1", d => y(d)).attr("y2", d => y(d))
  .attr("stroke", d => Number.isInteger(d) ? "#4a4a4a" : "#a6a6a6")
  .attr("stroke-width", d => Number.isInteger(d) ? 2.2 : 1.8);

// Axes
const fmt = d3.utcFormat("%-m/%-d/%y");
const xAxis = d3.axisBottom(x).tickValues(days).tickSizeOuter(0)
  .tickFormat(d => dayIndex(d) % 2 === 0 ? fmt(d) : "");
const gx = svg.append("g").attr("transform", `translate(0,${plot.bottom})`).call(xAxis);
gx.select(".domain").remove();
gx.selectAll(".tick line")
  .attr("y2", d => dayIndex(d) % 2 === 0 ? 40 : 20)
  .attr("stroke", "#333").attr("stroke-width", 2);
gx.selectAll(".tick text").attr("y", 62).attr("dy", "0.71em")
  .attr("font-size", 25).attr("fill", "#222")
  .style("font-family", "'Liberation Sans', Arial, sans-serif");

const yAxis = d3.axisLeft(y).tickValues(gridLevels).tickSizeOuter(0)
  .tickFormat(d => yTickLabels.includes(d) ? d3.format("d")(d) : "");
const gy = svg.append("g").attr("transform", `translate(${plot.left},0)`).call(yAxis);
gy.select(".domain").remove();
gy.selectAll(".tick line")
  .attr("x2", d => Number.isInteger(d) ? -39 : -20)
  .attr("stroke", d => Number.isInteger(d) ? "#333" : "#444").attr("stroke-width", 2.2);
gy.selectAll(".tick text").attr("x", -61).attr("font-size", 25).attr("fill", "#222")
  .style("font-family", "'Liberation Sans', Arial, sans-serif");

// Axis frame with the scale break
const frame = svg.append("g").attr("stroke", "#333").attr("stroke-width", 2.4);
frame.append("line").attr("x1", plot.left).attr("x2", plot.left).attr("y1", plot.top).attr("y2", y(257));
frame.append("line").attr("x1", plot.left).attr("x2", plot.left).attr("y1", 1679).attr("y2", plot.bottom);
frame.append("line").attr("x1", 104).attr("x2", plot.right).attr("y1", plot.bottom).attr("y2", plot.bottom);
frame.append("line").attr("x1", 118).attr("y1", 1670).attr("x2", 167).attr("y2", 1639).attr("stroke-width", 2);
frame.append("line").attr("x1", 118).attr("y1", 1695).attr("x2", 167).attr("y2", 1665).attr("stroke-width", 2);

// Axis titles
svg.append("text").attr("x", 1570).attr("y", 1960).attr("text-anchor", "middle")
  .attr("font-size", 26).attr("fill", "#222").text("Temps");
svg.append("text").attr("transform", "translate(24,935) rotate(-90)").attr("text-anchor", "middle")
  .attr("font-size", 24).attr("fill", "#222").text("Élévations du niveau d'eau (m)");

// Series
svg.append("clipPath").attr("id", "clip").append("rect")
  .attr("x", plot.left).attr("y", plot.top - 4).attr("width", plot.right - plot.left).attr("height", plot.bottom - plot.top + 4);
const line = d3.line().x(d => x(toDate(d[0]))).y(d => y(d[1]));
const layer = svg.append("g").attr("clip-path", "url(#clip)");

function valueAt(data, t) {
  const i = d3.bisector(d => d[0]).left(data, t);
  if (i <= 0) return data[0][1];
  if (i >= data.length) return data[data.length - 1][1];
  const a = data[i - 1], b = data[i];
  return a[1] + (b[1] - a[1]) * (t - a[0]) / (b[0] - a[0]);
}

function drawMarker(g, type, cx, cy, color) {
  const m = g.append("g").attr("transform", `translate(${cx},${cy})`);
  switch (type) {
    case "circle":
      m.append("circle").attr("r", 6.5).attr("fill", "none").attr("stroke", color).attr("stroke-width", 2.2); break;
    case "square":
      m.append("rect").attr("x", -6.5).attr("y", -6.5).attr("width", 13).attr("height", 13)
        .attr("fill", "none").attr("stroke", color).attr("stroke-width", 2.2); break;
    case "triUp":
      m.append("path").attr("d", "M0,-8L8,6L-8,6Z").attr("fill", "none").attr("stroke", color).attr("stroke-width", 2.4); break;
    case "diamond":
      m.append("path").attr("d", "M0,-8L8,0L0,8L-8,0Z").attr("fill", "none").attr("stroke", color).attr("stroke-width", 2.2); break;
    case "star":
      m.append("path").attr("d", "M-7,0H7M0,-7V7M-5,-5L5,5M-5,5L5,-5").attr("stroke", "#8cc3d6").attr("stroke-width", 1.8); break;
    case "triDown":
      m.append("path").attr("d", "M-8,-7L8,-7L0,8Z").attr("fill", "#fff").attr("stroke", "#ff0000").attr("stroke-width", 2);
      m.append("path").attr("d", "M-7,-6L0,-6L0,7Z").attr("fill", "#a00000"); break;
    case "halfCircle":
      m.append("circle").attr("r", 6.5).attr("fill", "#fff").attr("stroke", "#5b8fb4").attr("stroke-width", 2);
      m.append("path").attr("d", "M0,-6.5A6.5,6.5 0 0 0 0,6.5Z").attr("fill", "#3f6f96"); break;
    case "diamondFill":
      m.append("path").attr("d", "M0,-9L5,0L0,9L-5,0Z").attr("fill", "#4d4d1a").attr("stroke", color).attr("stroke-width", 1.5); break;
    case "x":
      m.append("path").attr("d", "M-6,-6L6,6M-6,6L6,-6").attr("stroke", color).attr("stroke-width", 3); break;
    case "triLeft":
      m.append("path").attr("d", "M-8,0L7,-7L7,7Z").attr("fill", "#cc3366").attr("stroke", color).attr("stroke-width", 1.5); break;
  }
}

series.forEach(s => {
  layer.append("path").datum(s.data).attr("d", line)
    .attr("fill", "none").attr("stroke", s.color).attr("stroke-width", s.width)
    .attr("stroke-linejoin", "round");
  if (s.band) {
    // wider stroke where the logger trace is a noisy band
    const bandLine = d3.line().defined(s.band.test).x(d => x(toDate(d[0]))).y(d => y(d[1]));
    layer.append("path").datum(s.data).attr("d", bandLine)
      .attr("fill", "none").attr("stroke", s.color).attr("stroke-width", s.band.width)
      .attr("stroke-linejoin", "round");
  }
});
series.forEach(s => {
  const mg = layer.append("g");
  const tEnd = s.data[s.data.length - 1][0];
  let ts = s.marks;
  if (!ts) { ts = []; for (let t = s.start; t <= tEnd; t += s.every) ts.push(t); }
  ts.forEach(t => drawMarker(mg, s.marker, x(toDate(t)), y(valueAt(s.data, t)), s.color));
});

// Shut-off electrodes
electrodes.forEach(e => {
  svg.append("line").attr("x1", plot.left).attr("x2", plot.right + 6)
    .attr("y1", y(e.level)).attr("y2", y(e.level))
    .attr("stroke", e.color).attr("stroke-width", 4.5);
  const bx = plot.right - 3 - e.width;
  svg.append("rect").attr("x", bx - 4).attr("y", y(e.level) - 34).attr("width", e.width + 6).attr("height", 28).attr("fill", "#fff");
  svg.append("text").attr("x", bx).attr("y", y(e.level) - 11)
    .attr("font-size", 26).attr("font-weight", "bold").attr("fill", e.color)
    .attr("textLength", e.width).attr("lengthAdjust", "spacingAndGlyphs")
    .text(e.label);
});

// Brackets and their drawdown labels
brackets.forEach(b => {
  const y0 = y(b.top), y1 = y(b.bottom), ym = (y0 + y1) / 2, hw = 16;
  if (b.veil) {
    svg.append("rect").attr("x", b.x - b.veil).attr("y", y0 + 4).attr("width", b.veil)
      .attr("height", y1 - y0 - 8).attr("fill", "#fff").attr("opacity", 0.85);
  }
  const p = d3.path();
  p.moveTo(b.x - hw, y0); p.quadraticCurveTo(b.x, y0, b.x, y0 + 6);
  p.lineTo(b.x, ym - 6); p.quadraticCurveTo(b.x, ym, b.x + 10, ym);
  p.quadraticCurveTo(b.x, ym, b.x, ym + 6);
  p.lineTo(b.x, y1 - 6); p.quadraticCurveTo(b.x, y1, b.x - hw, y1);
  svg.append("path").attr("d", p.toString()).attr("fill", "none").attr("stroke", "#111").attr("stroke-width", b.weight);
  const t = svg.append("text").attr("x", b.tx).attr("y", ym + 7).attr("font-size", 19).attr("fill", "#222").text(b.text);
  const bb = t.node().getBBox();
  svg.insert("rect", () => t.node()).attr("x", bb.x - 2).attr("y", bb.y).attr("width", bb.width + 4).attr("height", bb.height).attr("fill", "#fff");
});

// Legend
const lg = svg.append("g");
lg.append("rect").attr("x", 2510).attr("y", 550).attr("width", 478).attr("height", 287)
  .attr("fill", "#fff").attr("stroke", "#777").attr("stroke-width", 2.5);
legendOrder.forEach((name, i) => {
  const s = series.find(d => d.name === name);
  const col = i % 2, row = Math.floor(i / 2);
  const x0 = col === 0 ? 2529 : 2740, x1 = col === 0 ? 2610 : 2822, tx = col === 0 ? 2642 : 2852;
  const ly = 597 + row * 52;
  lg.append("line").attr("x1", x0).attr("x2", x1).attr("y1", ly).attr("y2", ly)
    .attr("stroke", s.color).attr("stroke-width", Math.min(s.width, 3));
  drawMarker(lg, s.marker, x0, ly, s.color);
  drawMarker(lg, s.marker, x1, ly, s.color);
  lg.append("text").attr("x", tx).attr("y", ly + 11).attr("font-size", 31).attr("fill", "#222").text(name);
});
</script>
</body>
</html>
